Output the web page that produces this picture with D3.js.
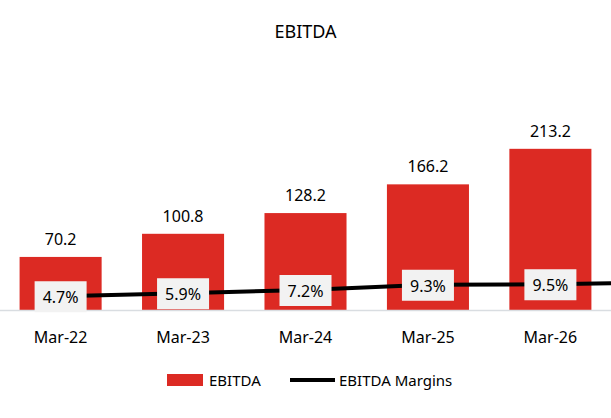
<!DOCTYPE html><html><head><script src="https://cdn.jsdelivr.net/npm/d3@7"></script>
<style>body{margin:0;background:#fff}text{font-family:"Noto Sans","Open Sans",sans-serif}</style></head><body>
<script>
const categories=["Mar-22","Mar-23","Mar-24","Mar-25","Mar-26"];
const ebitda=[70.2,100.8,128.2,166.2,213.2];
const margins=[4.7,5.9,7.2,9.3,9.5];
const W=611,H=418;
const svg=d3.select("body").append("svg").attr("width",W).attr("height",H);
const x=d3.scaleBand().domain(categories).range([0,611]).paddingInner(0.33).paddingOuter(0.16);
const y=d3.scaleLinear().domain([0,250]).range([310,121]);
const y2=d3.scaleLinear().domain([0,64]).range([308,148]);
svg.append("text").attr("x",W/2).attr("y",38).attr("text-anchor","middle").attr("font-size",18).attr("fill","#000").text("EBITDA");
svg.selectAll(".bar").data(ebitda).enter().append("rect").attr("x",(d,i)=>x(categories[i])).attr("width",x.bandwidth())
 .attr("y",d=>y(d)).attr("height",d=>310-y(d)).attr("fill","#dc2a23");
svg.selectAll(".bl").data(ebitda).enter().append("text").attr("x",(d,i)=>x(categories[i])+x.bandwidth()/2).attr("y",d=>y(d)-12)
 .attr("text-anchor","middle").attr("font-size",16).text(d=>d.toFixed(1));
svg.append("line").attr("x1",0).attr("x2",W).attr("y1",310.5).attr("y2",310.5).attr("stroke","#d9dde1").attr("stroke-width",1.5);
const pts=margins.map((m,i)=>[x(categories[i])+x.bandwidth()/2,y2(m)]);
pts.push([W,y2(margins[margins.length-1])-1]);
svg.append("path").attr("d",d3.line()(pts)).attr("fill","none").attr("stroke","#000").attr("stroke-width",4);
margins.forEach((m,i)=>{const cx=x(categories[i])+x.bandwidth()/2,cy=y2(m);
 svg.append("rect").attr("x",cx-26).attr("y",cy-15).attr("width",52).attr("height",31).attr("fill","#f2f2f2");
 svg.append("text").attr("x",cx).attr("y",cy+7).attr("text-anchor","middle").attr("font-size",16).text(m.toFixed(1)+"%");});
svg.selectAll(".xl").data(categories).enter().append("text").attr("x",d=>x(d)+x.bandwidth()/2).attr("y",343).attr("text-anchor","middle").attr("font-size",16).text(d=>d);
svg.append("rect").attr("x",167).attr("y",374).attr("width",36).attr("height",12).attr("fill","#dc2a23");
svg.append("text").attr("x",209).attr("y",386).attr("font-size",15).text("EBITDA");
svg.append("line").attr("x1",290).attr("x2",335).attr("y1",380).attr("y2",380).attr("stroke","#000").attr("stroke-width",4);
svg.append("text").attr("x",339).attr("y",386).attr("font-size",15).text("EBITDA Margins");
</script></body></html>
